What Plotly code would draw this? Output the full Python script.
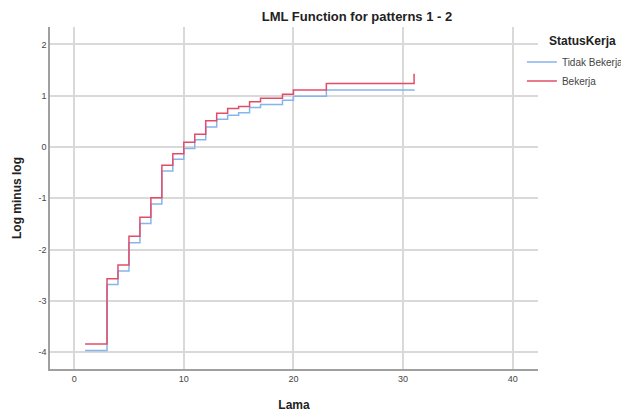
import plotly.graph_objects as go

lama = [1, 3, 4, 5, 6, 7, 8, 9, 10, 11, 12, 13, 14, 15, 16, 17, 19, 20, 23, 31]
tidak_bekerja = [-3.97, -2.68, -2.42, -1.87, -1.49, -1.11, -0.47, -0.24, -0.03, 0.14,
                 0.39, 0.54, 0.62, 0.67, 0.77, 0.83, 0.91, 0.99, 1.11, 1.12]
bekerja = [-3.84, -2.57, -2.30, -1.74, -1.37, -0.99, -0.355, -0.13, 0.09, 0.25,
           0.51, 0.66, 0.75, 0.79, 0.88, 0.95, 1.03, 1.11, 1.24, 1.43]
x_ticks = [0, 10, 20, 30, 40]
x_labels = ["0", "10", "20", "30", "40"]
y_ticks = [-4, -3, -2, -1, 0, 1, 2]
y_labels = ["-4", "-3", "-2", "-1", "0", "1", "2"]

FONT = "Arial, Liberation Sans, sans-serif"

fig = go.Figure()
fig.add_trace(go.Scatter(x=lama, y=tidak_bekerja, mode="lines", name="Tidak Bekerja",
                         line=dict(shape="hv", color="#86b5ee", width=1.5)))
fig.add_trace(go.Scatter(x=lama, y=bekerja, mode="lines", name="Bekerja",
                         line=dict(shape="hv", color="#e34c69", width=1.5)))

# page body has an 8px margin, so the figure is 8px smaller and margins compensated
fig.update_layout(
    width=621, height=404,
    margin=dict(l=42, r=91, t=19, b=43, autoexpand=False),
    paper_bgcolor="white", plot_bgcolor="white",
    font=dict(family=FONT, color="#333"),
    title=dict(text="<b>LML Function for patterns 1 - 2</b>", x=0.562, xanchor="center",
               y=0.978, yanchor="middle", font=dict(size=13, color="#222")),
    legend=dict(x=0.967, xanchor="left", y=0.94, yanchor="top",
                font=dict(size=10, color="#444"), itemwidth=30, tracegroupgap=0,
                bgcolor="rgba(0,0,0,0)"),
    showlegend=True,
    annotations=[dict(text="<b>StatusKerja</b>", xref="paper", yref="paper",
                      x=1.018, y=0.959, xanchor="left", yanchor="middle", showarrow=False,
                      font=dict(size=12, color="#222"))],
)
fig.update_xaxes(range=[-2.2, 42.3], tickvals=x_ticks, ticktext=x_labels, showgrid=True,
                 gridcolor="#d9d9d9", automargin=False,
                 gridwidth=1.5, zeroline=False, showline=True, linecolor="#a0a0a0", linewidth=1.5,
                 ticks="", tickfont=dict(size=9, color="#444"),
                 title=dict(text="<b>Lama</b>", font=dict(size=12, color="#222"), standoff=23))
fig.update_yaxes(range=[-4.33, 2.34], tickvals=y_ticks, ticktext=y_labels, showgrid=True,
                 gridcolor="#d9d9d9", automargin=False,
                 gridwidth=1.5, zeroline=False, showline=True, linecolor="#a0a0a0", linewidth=1.5,
                 ticks="", tickfont=dict(size=9, color="#444"),
                 title=dict(text="<b>Log minus log</b>", font=dict(size=12, color="#222"), standoff=14))

fig.write_html("out.html")
